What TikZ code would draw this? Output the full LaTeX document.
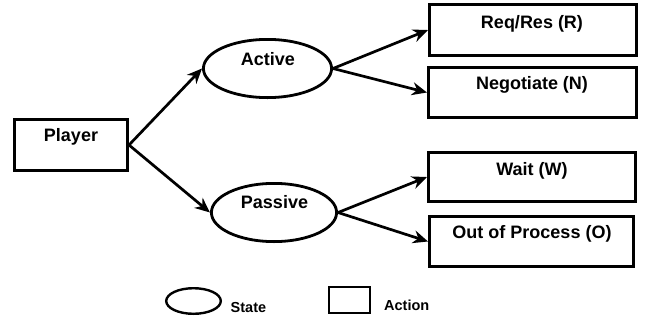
\documentclass[tikz,border=0pt]{standalone}
\usepackage{fontspec}
\setmainfont{Liberation Sans}
\usetikzlibrary{shapes.geometric,arrows.meta}
\begin{document}
\begin{tikzpicture}[x=1pt,y=-1pt,
 box/.style={draw,line width=2.8pt,rectangle,inner sep=0pt},
 st/.style={draw,line width=2.8pt,ellipse,inner sep=0pt},
 lbl/.style={font=\fontsize{18}{20}\selectfont\bfseries,anchor=base,inner sep=0pt},
 leg/.style={font=\fontsize{14.5}{16}\selectfont\bfseries,anchor=base west,inner sep=0pt},
 arr/.style={line width=2.7pt,-{Stealth[length=15pt,width=13pt]}}]
\useasboundingbox (0,0) rectangle (651,322);
% nodes
\node[box,minimum width=113.2pt,minimum height=51.2pt] (player) at (71,145) {};
\node[st,minimum width=128.2pt,minimum height=58.2pt] (active) at (267.5,68.5) {};
\node[st,minimum width=125.2pt,minimum height=58.2pt] (passive) at (274,212.5) {};
\node[box,minimum width=207.2pt,minimum height=51.2pt] (req) at (533,30) {};
\node[box,minimum width=208.2pt,minimum height=50.2pt] (neg) at (532.5,92.5) {};
\node[box,minimum width=207.2pt,minimum height=49.2pt] (wait) at (532,177) {};
\node[box,minimum width=204.2pt,minimum height=50.2pt] (out) at (531.5,241.5) {};
% labels
\node[lbl] (playerT) at (71,141) {Player};
\node[lbl] (activeT) at (268,65) {Active};
\node[lbl] (passiveT) at (274.5,208) {Passive};
\node[lbl] (reqT) at (532,28) {Req/Res (R)};
\node[lbl] (negT) at (532,89) {Negotiate (N)};
\node[lbl] (waitT) at (532,175) {Wait (W)};
\node[lbl] (outT) at (532,238) {Out of Process (O)};
% arrows
\draw[arr] (player.east) -- (active.west);
\draw[arr] (player.east) -- (passive.west);
\draw[arr] (active.east) -- (req.west);
\draw[arr] (active.east) -- (neg.west);
\draw[arr] (passive.east) -- (wait.west);
\draw[arr] (passive.east) -- (out.west);
% legend
\node[st,line width=2.4pt,minimum width=54.6pt,minimum height=25.6pt] (legE) at (193.5,301) {};
\node[leg] (legET) at (230.5,312) {State};
\node[box,line width=2.4pt,minimum width=40.6pt,minimum height=25.6pt] (legR) at (349.5,300) {};
\node[leg] (legRT) at (384,310) {Action};
\end{tikzpicture}
\end{document}
